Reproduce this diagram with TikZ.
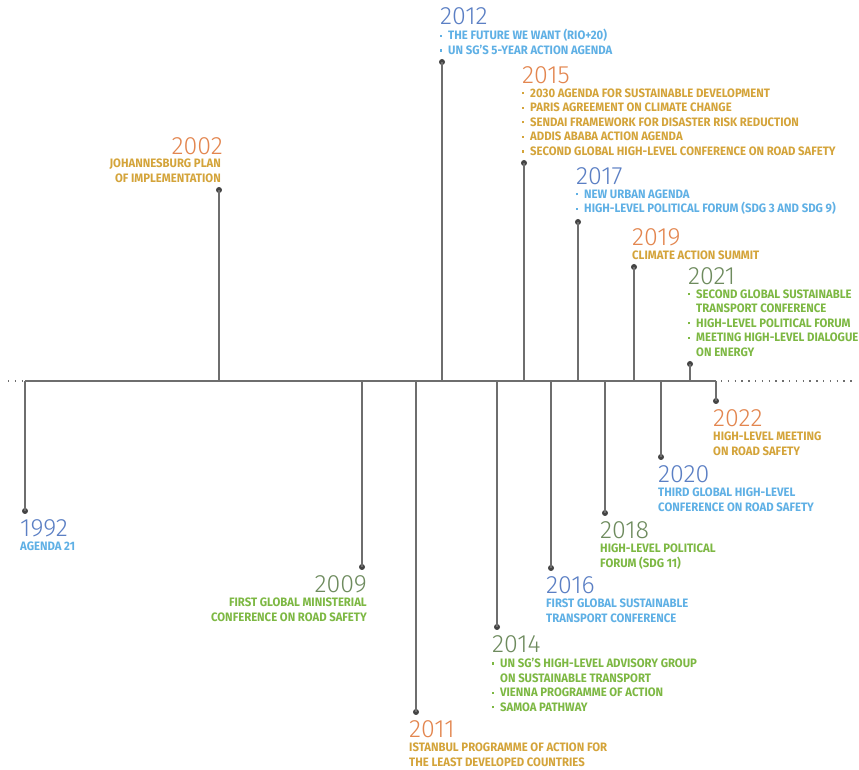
\documentclass[tikz,border=0pt]{standalone}
\usepackage{fontspec}
\setmainfont{Fira Sans}
\newfontfamily\yearfont{Fira Sans Light}
\newfontfamily\evfont{Fira Sans}[FakeStretch=0.93]
\usetikzlibrary{positioning}

\definecolor{linegrey}{HTML}{6E6E6E}
\definecolor{dotgrey}{HTML}{444444}
\definecolor{yblue}{HTML}{5B7FC4}
\definecolor{yorange}{HTML}{E3864F}
\definecolor{ygreen}{HTML}{6E8B5E}
\definecolor{tblue}{HTML}{5FB0E5}
\definecolor{tgold}{HTML}{D4A43A}
\definecolor{tgreen}{HTML}{7DB843}

\newcommand\bul{\makebox[8pt][l]{\raisebox{3pt}{\rule{2.2pt}{2.2pt}}}}
\newcommand\ind{\hspace*{8pt}}

\begin{document}
\begin{tikzpicture}[x=1pt,y=1pt,
  enddot/.style={circle,fill=dotgrey,inner sep=0pt,minimum size=6pt},
  stemline/.style={draw=linegrey,line width=1.4pt},
  yr/.style={inner sep=0pt,anchor=base west,font=\yearfont\fontsize{25}{25}\selectfont},
  ev/.style={inner sep=0pt,align=left,font=\evfont\bfseries\fontsize{12.2}{14.6}\selectfont}]
\fill[white] (0,0) rectangle (859,770);
\useasboundingbox (0,0) rectangle (859,770);

% time axis
\coordinate (dotsL) at (8,389);
\coordinate (axL) at (25,389);
\coordinate (axR) at (716,389);
\coordinate (dotsR) at (852,389);
\draw[linegrey,line width=1.3pt] (axL) -- (axR);
\draw[linegrey,line width=1.2pt,dash pattern=on 1.3pt off 5.5pt] (dotsL) -- (axL);
\draw[linegrey,line width=1.2pt,dash pattern=on 1.3pt off 5.5pt] ([xshift=5pt]axR) -- (dotsR);

% events below the axis
\node[enddot] (d1992) at (25,259) {};
\node[yr,text=yblue] (y1992) at ([shift={(-5,-26)}]d1992.center) {1992};
\node[ev,text=tblue,below right=5pt and 0pt of y1992.base west] (t1992) {AGENDA 21};

\node[enddot] (d2009) at (362,203) {};
\node[yr,text=ygreen,anchor=base east] (y2009) at ([shift={(5,-26)}]d2009.center) {2009};
\node[ev,text=tgreen,align=right,below left=5pt and 0pt of y2009.base east] (t2009) {FIRST GLOBAL MINISTERIAL\\CONFERENCE ON ROAD SAFETY};

\node[enddot] (d2011) at (416,58) {};
\node[yr,text=yorange] (y2011) at ([shift={(-7,-26)}]d2011.center) {2011};
\node[ev,text=tgold,below right=5pt and 0pt of y2011.base west] (t2011) {ISTANBUL PROGRAMME OF ACTION FOR\\THE LEAST DEVELOPED COUNTRIES};

\node[enddot] (d2014) at (497,143) {};
\node[yr,text=ygreen] (y2014) at ([shift={(-5,-26)}]d2014.center) {2014};
\node[ev,text=tgreen,below right=5pt and 0pt of y2014.base west] (t2014) {\bul UN SG’S HIGH-LEVEL ADVISORY GROUP\\\ind ON SUSTAINABLE TRANSPORT\\\bul VIENNA PROGRAMME OF ACTION\\\bul SAMOA PATHWAY};

\node[enddot] (d2016) at (551,202) {};
\node[yr,text=yblue] (y2016) at ([shift={(-5,-26)}]d2016.center) {2016};
\node[ev,text=tblue,below right=5pt and 0pt of y2016.base west] (t2016) {FIRST GLOBAL SUSTAINABLE\\TRANSPORT CONFERENCE};

\node[enddot] (d2018) at (605,257) {};
\node[yr,text=ygreen] (y2018) at ([shift={(-5,-26)}]d2018.center) {2018};
\node[ev,text=tgreen,below right=5pt and 0pt of y2018.base west] (t2018) {HIGH-LEVEL POLITICAL\\FORUM (SDG 11)};

\node[enddot] (d2020) at (661,313) {};
\node[yr,text=yblue] (y2020) at ([shift={(-3,-26)}]d2020.center) {2020};
\node[ev,text=tblue,below right=5pt and 0pt of y2020.base west] (t2020) {THIRD GLOBAL HIGH-LEVEL\\CONFERENCE ON ROAD SAFETY};

\node[enddot] (d2022) at (716,369) {};
\node[yr,text=yorange] (y2022) at ([shift={(-3,-26)}]d2022.center) {2022};
\node[ev,text=tgold,below right=5pt and 0pt of y2022.base west] (t2022) {HIGH-LEVEL MEETING\\ON ROAD SAFETY};

% events above the axis
\node[enddot] (d2002) at (219,580) {};
\node[ev,text=tgold,align=right,above left=7pt and -2pt of d2002.center] (t2002) {JOHANNESBURG PLAN\\OF IMPLEMENTATION};
\node[yr,text=yorange,above left=5pt and -2pt of t2002.north east,anchor=base east] (y2002) {2002};

\node[enddot] (d2012) at (442,708) {};
\node[ev,text=tblue,above right=7pt and -2pt of d2012.center] (t2012) {\bul THE FUTURE WE WANT (RIO+20)\\\bul UN SG’S 5-YEAR ACTION AGENDA};
\node[yr,text=yblue,above right=5pt and 0pt of t2012.north west,anchor=base west] (y2012) {2012};

\node[enddot] (d2015) at (524,607) {};
\node[ev,text=tgold,above right=7pt and -2pt of d2015.center] (t2015) {\bul 2030 AGENDA FOR SUSTAINABLE DEVELOPMENT\\\bul PARIS AGREEMENT ON CLIMATE CHANGE\\\bul SENDAI FRAMEWORK FOR DISASTER RISK REDUCTION\\\bul ADDIS ABABA ACTION AGENDA\\\bul SECOND GLOBAL HIGH-LEVEL CONFERENCE ON ROAD SAFETY};
\node[yr,text=yorange,above right=5pt and 0pt of t2015.north west,anchor=base west] (y2015) {2015};

\node[enddot] (d2017) at (578,548) {};
\node[ev,text=tblue,above right=7pt and -2pt of d2017.center] (t2017) {\bul NEW URBAN AGENDA\\\bul HIGH-LEVEL POLITICAL FORUM (SDG 3 AND SDG 9)};
\node[yr,text=yblue,above right=5pt and 0pt of t2017.north west,anchor=base west] (y2017) {2017};

\node[enddot] (d2019) at (634,503) {};
\node[ev,text=tgold,above right=7pt and -2pt of d2019.center] (t2019) {CLIMATE ACTION SUMMIT};
\node[yr,text=yorange,above right=5pt and 0pt of t2019.north west,anchor=base west] (y2019) {2019};

\node[enddot] (d2021) at (690,406) {};
\node[ev,text=tgreen,above right=7pt and -2pt of d2021.center] (t2021) {\bul SECOND GLOBAL SUSTAINABLE\\\ind TRANSPORT CONFERENCE\\\bul HIGH-LEVEL POLITICAL FORUM\\\bul MEETING HIGH-LEVEL DIALOGUE\\\ind ON ENERGY};
\node[yr,text=ygreen,above right=5pt and 0pt of t2021.north west,anchor=base west] (y2021) {2021};

% stems from the axis
\foreach \yr in {1992,2002,2009,2011,2012,2014,2015,2016,2017,2018,2019,2020,2021,2022}
  \draw[stemline] (d\yr.center |- axL) -- (d\yr.center);
\end{tikzpicture}
\end{document}
